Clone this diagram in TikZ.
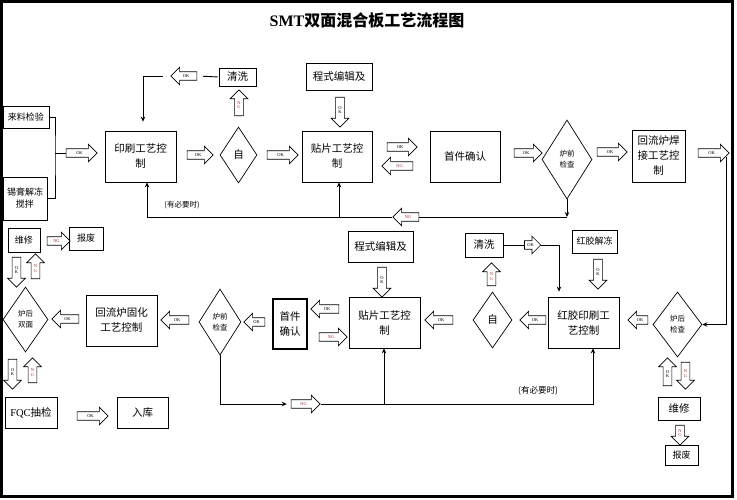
\documentclass[tikz,border=0pt]{standalone}
\usepackage{fontspec}
\setmainfont{Liberation Serif}
\newfontfamily\cjk{Noto Sans CJK SC}
\newfontfamily\latn{Liberation Serif}
\usetikzlibrary{shapes.geometric,shapes.arrows,arrows.meta}
\definecolor{ngred}{RGB}{175,45,45}
\tikzset{
  box/.style={draw, line width=0.7pt, inner sep=0pt, align=center,
    font=\cjk\fontsize{10.5}{15}\selectfont},
  small/.style={font=\cjk\fontsize{9}{12}\selectfont},
  dia/.style={diamond, draw, line width=0.7pt, inner sep=0pt, align=center,
    font=\cjk\fontsize{7.5}{11}\selectfont},
  blk/.style={single arrow, draw, fill=white, line width=0.7pt,
    single arrow head extend=4.5pt, align=center,
    font=\latn\fontsize{4.5}{4.5}\selectfont},
  toR/.style={blk, inner sep=2.4pt, text height=3pt, text depth=0pt, minimum height=#1},
  toL/.style={toR=#1, shape border rotate=180},
  toU/.style={blk, inner xsep=2.4pt, inner ysep=1pt, shape border rotate=90, minimum height=#1},
  toD/.style={toU=#1, shape border rotate=270},
  ng/.style={text=ngred},
  wire/.style={line width=0.9pt},
  arr/.style={-{Stealth[length=5pt,width=4.5pt]}},
  note/.style={font=\cjk\fontsize{7.5}{9}\selectfont}
}
\begin{document}
\begin{tikzpicture}[x=1pt, y=-1pt]
\useasboundingbox (0,0) rectangle (737,500);
\draw[line width=3pt] (1.5,1.5) rectangle (732,496.5);
\node (title) at (367,20) {\fontsize{16}{18}\selectfont\bfseries\latn SMT\cjk 双面混合板工艺流程图};

% first side
\node[box, small, minimum width=46, minimum height=22] (lljy) at (26,117) {来料检验};
\node[box, small, minimum width=44, minimum height=43] (xgjd) at (25,198.5) {锡膏解冻\\搅拌};
\node[box, minimum width=71, minimum height=51] (ys1) at (140.5,156.5) {印刷工艺控\\制};
\node[dia, font=\cjk\fontsize{10.5}{12}\selectfont, minimum width=37, minimum height=56] (zi1) at (238.5,155) {自};
\node[box, minimum width=70, minimum height=51] (tp1) at (337,156.5) {贴片工艺控\\制};
\node[box, minimum width=37, minimum height=18] (qx1) at (237.5,77) {清洗};
\node[box, minimum width=66, minimum height=27] (cs1) at (339,76.5) {程式编辑及};
\node[box, minimum width=70, minimum height=51] (sj1) at (465,156.5) {首件确认};
\node[dia, minimum width=50, minimum height=79] (lq1) at (567,159.5) {炉前\\检查};
\node[box, minimum width=53, minimum height=52] (hl1) at (658.5,156) {回流炉焊\\接工艺控\\制};

\node[toR=31] (a1) at (79.5,153) {OK};
\node[toR=26] (a2) at (198,155) {OK};
\node[toR=31] (a3) at (280.5,155) {OK};
\node[toU=26, ng] (a4) at (239,105) {N\\G};
\node[toL=26] (a5) at (186,76) {OK};
\node[toD=30] (a6) at (340,110) {O\\K};
\node[toR=30] (a7) at (400,147) {OK};
\node[toL=31, ng] (a8) at (399.5,166) {NG};
\node[toR=28] (a9) at (526,153) {OK};
\node[toR=30] (a10) at (610,152) {OK};
\node[toR=31] (a11) at (711.5,153) {OK};
\node[toL=26, ng] (a12) at (408,217) {NG};

\coordinate (brk) at (55,153);
\draw[wire] (lljy.east) -| (brk) |- (xgjd.east);
\draw[wire] (brk) -- (a1.tail);
\draw[wire, shorten <=1pt, shorten >=6pt] (qx1.west) -- (a5.tail);
\coordinate (c1) at (163,76);
\draw[wire, arr, shorten >=9pt] (c1) -| ([xshift=2.5pt]ys1.north);
\coordinate (j1) at (567,217);
\draw[wire, arr] (lq1.south) -- (j1);
\draw[wire] (j1) -- (a12.tail);
\draw[wire, arr] (a12.tip) -| ([xshift=6.5pt]ys1.south);
\coordinate (j3) at (339,217);
\draw[wire, arr] (j3) -- (j3 |- tp1.south);
\node[note] (need1) at (182,205) {(有必要时)};

% second side
\node[box, minimum width=65, minimum height=31] (cs2) at (380.5,246.5) {程式编辑及};
\node[box, minimum width=71, minimum height=51] (tp2) at (384.5,322.5) {贴片工艺控\\制};
\node[dia, font=\cjk\fontsize{10.5}{12}\selectfont, minimum width=39, minimum height=56] (zi2) at (492.5,320) {自};
\node[box, minimum width=38, minimum height=24] (qx2) at (484,245) {清洗};
\node[box, small, minimum width=45, minimum height=23] (hj) at (594.5,241.5) {红胶解冻};
\node[box, minimum width=71, minimum height=51] (hy) at (583.5,322.5) {红胶印刷工\\艺控制};
\node[dia, minimum width=49, minimum height=65] (lh2) at (677.5,324.5) {炉后\\检查};
\node[box, minimum width=42, minimum height=23] (wx2) at (679,408.5) {维修};
\node[box, small, minimum width=33, minimum height=20] (bf2) at (681.5,455) {报废};
\node[dia, minimum width=42, minimum height=66] (lq2) at (220,322) {炉前\\检查};
\node[box, line width=1.4pt, minimum width=34, minimum height=50] (sj2) at (290,324) {首件\\确认};
\node[box, minimum width=71, minimum height=51] (hl2) at (121.5,320.5) {回流炉固化\\工艺控制};
\node[dia, minimum width=45, minimum height=65] (lhs) at (25.5,319.5) {炉后\\双面};
\node[box, small, minimum width=32, minimum height=24] (wx1) at (24,240) {维修};
\node[box, small, minimum width=34, minimum height=23] (bf1) at (86,238.5) {报废};
\node[box, minimum width=52, minimum height=31] (fqc) at (31,412.5) {{\latn FQC}抽检};
\node[box, minimum width=51, minimum height=31] (rk) at (142.5,412.5) {入库};

\node[toD=30] (a13) at (382,280) {O\\K};
\node[toL=28] (a14) at (441,320) {OK};
\node[toU=23, ng] (a15) at (491.5,276.5) {N\\G};
\node[toR=15] (a16) at (530.5,245) {OK};
\node[toD=30] (a17) at (598,272) {O\\K};
\node[toL=26] (a18) at (535,320) {OK};
\node[toL=20] (a19) at (640,320) {OK};
\node[toU=28] (a20) at (667.5,374) {O\\K};
\node[toD=27, ng] (a21) at (685.5,373.5) {N\\G};
\node[toD=20, ng] (a22) at (680,433) {N\\G};
\node[toR=29, ng] (a23) at (303.5,404) {NG};
\node[toL=21] (a24) at (256.5,322) {OK};
\node[toL=28] (a25) at (327,309) {OK};
\node[toR=28, ng] (a26) at (331,337) {NG};
\node[toL=28] (a27) at (177,320) {OK};
\node[toL=27] (a28) at (67.5,319) {OK};
\node[toR=23, ng] (a29) at (56.5,241) {NG};
\node[toD=30] (a30) at (16.5,270) {O\\K};
\node[toU=25, ng] (a31) at (35.5,268.5) {N\\G};
\node[toD=30] (a32) at (12.5,372) {O\\K};
\node[toU=25, ng] (a33) at (32.5,372.5) {N\\G};
\node[toR=31] (a34) at (90.5,416) {OK};

\coordinate (j4) at (726,157);
\draw[wire, arr] (j4) |- (lh2.east);
\draw[wire] (qx2.east) -- (a16.tail);
\draw[wire, arr, shorten >=5pt] (a16.tip) -| ([xshift=-24.5pt]hy.north);
\draw[wire, arr, shorten >=4pt] (lq2.south) |- (a23.tail);
\draw[wire, arr] (a23.tip) -| ([xshift=9.5pt]hy.south);
\coordinate (j6) at (384,404);
\draw[wire, arr] (j6) -- (j6 |- tp2.south);
\node[note, font=\cjk\fontsize{8.5}{10}\selectfont] (need2) at (538,391) {(有必要时)};
\end{tikzpicture}
\end{document}
